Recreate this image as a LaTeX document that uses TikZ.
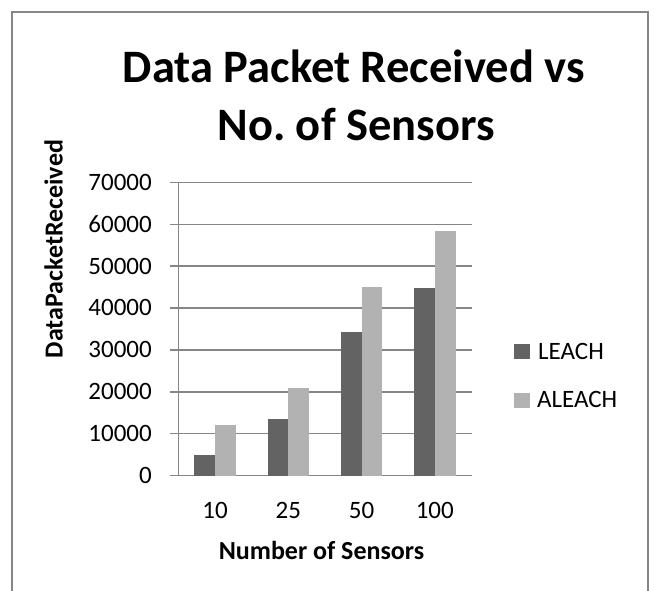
\documentclass[tikz,border=0pt]{standalone}
\usepackage{fontspec}
\setmainfont{Carlito}
\usepackage{tikz}
\usetikzlibrary{positioning, calc}
\frenchspacing
\definecolor{framegray}{RGB}{134,134,134}
\definecolor{gridgray}{RGB}{134,134,134}
\definecolor{leachfill}{RGB}{99,99,99}
\definecolor{aleachfill}{RGB}{178,178,178}
\tikzset{
    frameline/.style={
        draw=framegray,
        line width=1.5pt
    },
    gridline/.style={
        draw=gridgray,
        line width=1.4pt
    },
    leachbar/.style={
        fill=leachfill,
        draw=none
    },
    aleachbar/.style={
        fill=aleachfill,
        draw=none
    },
    ticklabel/.style={
        inner sep=0pt,
        font=\fontsize{25}{30}\selectfont
    },
    axistitle/.style={
        inner sep=0pt,
        font=\fontsize{26}{31}\selectfont\bfseries
    },
    charttitle/.style={
        inner sep=0pt,
        font=\fontsize{46.5}{58}\selectfont\bfseries
    },
    legendtext/.style={
        inner sep=0pt,
        anchor=base west,
        font=\fontsize{25}{30}\selectfont
    }
}

\begin{document}
\begin{tikzpicture}[x=1pt, y=-1pt]
\useasboundingbox (0,0) rectangle (654,591);
% Chart frame (open at the bottom)
\draw[frameline] (12,591) -- (12,12) -- (648,12) -- (648,591);

% Title
\node[charttitle, anchor=base] (title1) at (354,83) {Data Packet Received vs};
\node[charttitle, anchor=base] (title2) at (356,141) {No.\ of Sensors};

% Grid and value labels
\foreach \k/\v in {0/0, 1/10000, 2/20000, 3/30000, 4/40000, 5/50000, 6/60000, 7/70000} {
    \pgfmathsetmacro{\yy}{475.7-\k*41.91}
    \draw[gridline] (170,\yy) -- (471.7,\yy);
    \node[ticklabel, anchor=base east] (tick\k) at (152,\yy+7.9) {\v};
}
\draw[gridline] (178.3,182.3) -- (178.3,475.7);

% Bars (values in units of 1000)
\foreach \c/\lab/\a/\b [count=\i] in {215.0/10/5.0/12.2, 288.3/25/13.5/21.0, 361.5/50/34.3/45.0, 434.8/100/44.9/58.5} {
    \fill[leachbar] (\c-20.7,475.7) rectangle (\c,475.7-\a*4.191);
    \fill[aleachbar] (\c,475.7) rectangle (\c+20.7,475.7-\b*4.191);
    \node[ticklabel, anchor=base] (cat\i) at (\c,518) {\lab};
}

% Axis titles
\node[axistitle, anchor=base] (xlabel) at (321.5,559) {Number of Sensors};
\node[axistitle, rotate=90] (ylabel) at (53.5,249) {DataPacketReceived};

% Legend
\fill[leachbar] (514.3,344.3) rectangle (530,359.3);
\node[legendtext] (leg1) at (538,359) {LEACH};
\fill[aleachbar] (514.3,393.3) rectangle (530,408.3);
\node[legendtext] (leg2) at (537,407.3) {ALEACH};
\end{tikzpicture}
\end{document}
